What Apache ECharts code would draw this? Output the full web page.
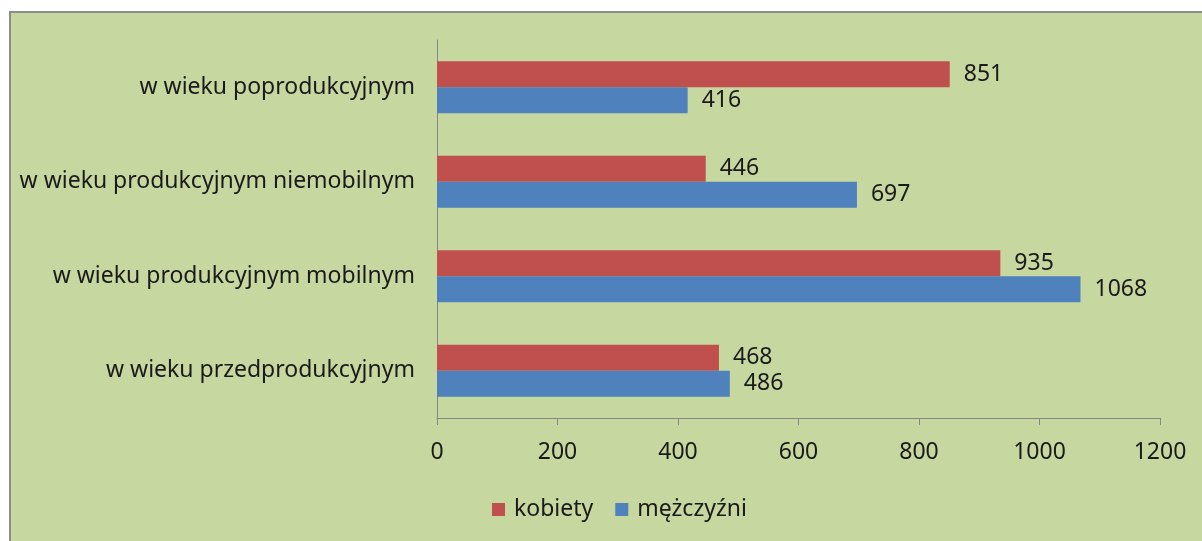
<!DOCTYPE html>
<html>
<head>
<meta charset="utf-8">
<script src="https://cdn.jsdelivr.net/npm/echarts@6/dist/echarts.min.js"></script>
<style>
  html, body { margin: 0; padding: 0; background: #fff; }
  #chart { width: 1202px; height: 541px; }
</style>
</head>
<body>
<div id="chart"></div>
<script>
// age groups, bottom to top as on the axis
const categories = [
  'w wieku przedprodukcyjnym',
  'w wieku produkcyjnym mobilnym',
  'w wieku produkcyjnym niemobilnym',
  'w wieku poprodukcyjnym'
];
const kobiety = [468, 935, 446, 851];
const mezczyzni = [486, 1068, 697, 416];
const xTicks = [0, 200, 400, 600, 800, 1000, 1200];

const FONT = 'Noto Sans';
const labelStyle = { show: true, position: 'right', distance: 14, color: '#1a1a1a', fontSize: 23, fontFamily: FONT };

const chart = echarts.init(document.getElementById('chart'));
chart.setOption({
  animation: false,
  textStyle: { fontFamily: FONT },
  graphic: [{
    type: 'rect',
    z: -10,
    shape: { x: 10, y: 12, width: 1200, height: 540 },
    style: { fill: '#c6d7a0', stroke: '#8c8c8c', lineWidth: 2 }
  }],
  grid: { left: 437, right: 42, top: 40, bottom: 123 },
  legend: {
    top: 493,
    left: 487,
    padding: 5,
    icon: 'rect',
    itemWidth: 13,
    itemHeight: 13,
    itemGap: 22,
    itemStyle: { borderWidth: 0 },
    textStyle: { fontSize: 23, color: '#1a1a1a', fontFamily: FONT, padding: [0, 0, 0, 4] },
    data: ['kobiety', 'mężczyźni']
  },
  xAxis: {
    type: 'value',
    min: xTicks[0],
    max: xTicks[xTicks.length - 1],
    interval: 200,
    axisLine: { show: true, lineStyle: { color: '#868686' } },
    axisTick: { show: true, length: 7, lineStyle: { color: '#868686' } },
    splitLine: { show: false },
    axisLabel: { fontSize: 23, color: '#1a1a1a', margin: 23, fontFamily: FONT, formatter: v => String(v) }
  },
  yAxis: {
    type: 'category',
    data: categories,
    axisLine: { lineStyle: { color: '#868686' } },
    axisTick: { length: 7, lineStyle: { color: '#868686' } },
    axisLabel: { fontSize: 23, color: '#1a1a1a', margin: 22, fontFamily: FONT }
  },
  series: [
    {
      name: 'kobiety',
      type: 'bar',
      data: kobiety,
      itemStyle: { color: '#c0504d' },
      barGap: '0%',
      barCategoryGap: '45%',
      label: labelStyle
    },
    {
      name: 'mężczyźni',
      type: 'bar',
      data: mezczyzni,
      itemStyle: { color: '#4f81bd' },
      label: labelStyle
    }
  ]
});
</script>
</body>
</html>
